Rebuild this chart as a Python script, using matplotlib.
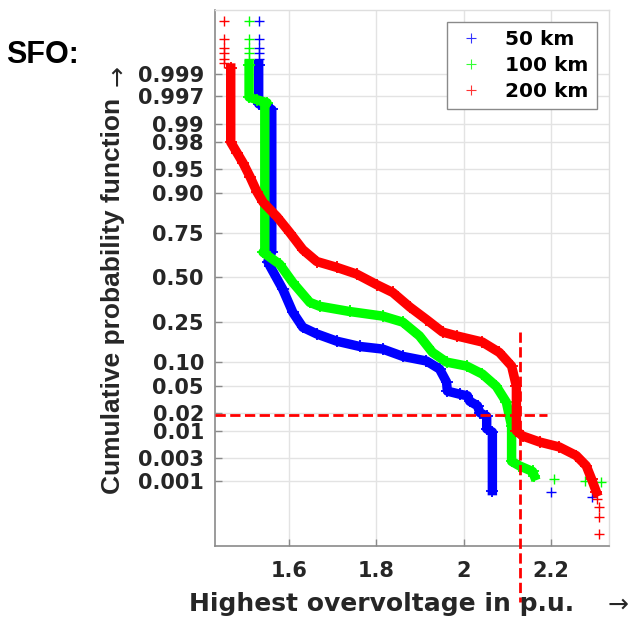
#!/usr/bin/env python3
"""
Normal probability plot of the highest overvoltage (SFO) for three line lengths.
"""

from statistics import NormalDist

import matplotlib
matplotlib.use("Agg")
import matplotlib.pyplot as plt
from matplotlib.lines import Line2D
import numpy as np

# ---- data (x in p.u., p = cumulative probability) ----
LABELS = ["50 km", "100 km", "200 km"]
COLORS = ["#0000FF", "#00FF00", "#FF0000"]

blue_x = [1.531, 1.531, 1.545, 1.561, 1.561, 1.552, 1.557, 1.586, 1.609, 1.632,
          1.664, 1.710, 1.762, 1.815, 1.861, 1.915, 1.945, 1.961, 1.963, 1.991,
          2.009, 2.014, 2.032, 2.037, 2.053, 2.053, 2.066, 2.066]
blue_p = [.99938, .9958, .9952, .9946, .652, .595, .567, .429, .298, .224,
          .195, .166, .147, .138, .115, .102, .082, .056, .042, .038,
          .036, .030, .0256, .020, .0174, .0107, .0094, .0006]
blue_sparse_x = [1.531, 1.531, 1.531, 1.531, 1.531, 2.201, 2.295]
blue_sparse_p = [.99995, .99985, .99975, .99968, .99955, .00056, .00043]

green_x = [1.509, 1.509, 1.527, 1.550, 1.545, 1.545, 1.541, 1.579, 1.609, 1.648,
           1.671, 1.739, 1.815, 1.861, 1.899, 1.929, 1.961, 2.007, 2.043, 2.075,
           2.098, 2.105, 2.110, 2.110, 2.128, 2.158, 2.162]
green_p = [.99938, .9969, .9965, .9960, .9955, .652, .648, .579, .469, .352,
           .330, .302, .278, .248, .187, .127, .099, .089, .071, .049,
           .029, .0174, .012, .0026, .0021, .0016, .00128]
green_sparse_x = [1.509, 1.509, 1.509, 1.509, 1.509, 2.208, 2.277, 2.315]
green_sparse_p = [.99995, .99985, .99975, .99968, .99955, .0011, .0010, .00094]

red_x = [1.467, 1.467, 1.481, 1.495, 1.511, 1.527, 1.541, 1.573, 1.602, 1.632,
         1.664, 1.710, 1.755, 1.801, 1.838, 1.877, 1.915, 1.952, 1.984, 2.043,
         2.082, 2.110, 2.121, 2.121, 2.135, 2.174, 2.219, 2.258, 2.281, 2.293,
         2.304]
red_p = [.99926, .980, .971, .959, .937, .903, .873, .821, .752, .663,
         .595, .560, .520, .456, .409, .326, .261, .203, .187, .163,
         .127, .089, .049, .0099, .008, .0062, .0050, .0034, .0021, .0011,
         .00056]
red_sparse_x = [1.451, 1.451, 1.451, 1.451, 1.451, 1.451, 2.306, 2.311, 2.311, 2.311]
red_sparse_p = [.99995, .99985, .99975, .99968, .99955, .99944, .00039, .00025, .00014, .00005]

# 2 % level and the 2.13 p.u. marker
limit_p = 0.018
limit_x = 2.13

Y_TICKS = [0.999, 0.997, 0.99, 0.98, 0.95, 0.90, 0.75, 0.50, 0.25, 0.10,
           0.05, 0.02, 0.01, 0.003, 0.001]
Y_TICK_LABELS = ["0.999", "0.997", "0.99", "0.98", "0.95", "0.90", "0.75", "0.50",
                 "0.25", "0.10", "0.05", "0.02", "0.01", "0.003", "0.001"]
X_TICKS = [1.6, 1.8, 2.0, 2.2]
X_TICK_LABELS = ["1.6", "1.8", "2", "2.2"]

TEXT = "#262626"
_nd = NormalDist()


def prob_forward(p):
    p = np.clip(np.asarray(p, dtype=float), 1e-12, 1 - 1e-12)
    return np.vectorize(_nd.inv_cdf, otypes=[float])(p)


def prob_inverse(z):
    z = np.asarray(z, dtype=float)
    return np.vectorize(_nd.cdf, otypes=[float])(z)


plt.rcParams["font.family"] = ["DejaVu Sans"]

fig = plt.figure(figsize=(6.3, 6.19), dpi=100)
ax = fig.add_axes([215 / 630, 73 / 619, 394 / 630, 536 / 619])
ax.set_yscale("function", functions=(prob_forward, prob_inverse))

series = [
    (blue_x, blue_p, blue_sparse_x, blue_sparse_p),
    (green_x, green_p, green_sparse_x, green_sparse_p),
    (red_x, red_p, red_sparse_x, red_sparse_p),
]
for (bx, bp, sx, sp), color in zip(series, COLORS):
    ax.plot(bx, bp, color=color, lw=6.8, marker="+", markersize=9,
            markeredgewidth=1.3, zorder=3)
    ax.plot(sx, sp, color=color, ls="none", marker="+", markersize=7,
            markeredgewidth=1.0, zorder=3)

ax.plot([1.431, 2.19], [limit_p, limit_p], color="#FF0000", lw=2, ls="--", zorder=4)
ax.plot([limit_x, limit_x], [0.203, 4e-7], color="#FF0000", lw=2, ls="--",
        zorder=4, clip_on=False)

ax.set_xlim(1.431, 2.333)
ax.set_ylim(_nd.cdf(-4.08), _nd.cdf(4.06))

ax.set_yticks(Y_TICKS)
ax.set_yticklabels(Y_TICK_LABELS)
ax.set_xticks(X_TICKS)
ax.set_xticklabels(X_TICK_LABELS)
ax.minorticks_off()

ax.tick_params(axis="both", direction="in", length=5, width=1, color="#8a8a8a",
               labelsize=15, labelcolor=TEXT)
ax.tick_params(axis="y", pad=8)
ax.tick_params(axis="x", pad=11)
for lab in ax.get_xticklabels() + ax.get_yticklabels():
    lab.set_fontweight("bold")

ax.grid(True, color="#e3e3e3", lw=1, zorder=0)
ax.set_axisbelow(True)
for side in ("left", "bottom"):
    ax.spines[side].set_color("#8a8a8a")
    ax.spines[side].set_linewidth(1.2)
for side in ("top", "right"):
    ax.spines[side].set_color("#dedede")
    ax.spines[side].set_linewidth(1)

handles = [Line2D([], [], color=c, ls="none", marker="+", markersize=7,
                  markeredgewidth=0.8, alpha=0.8) for c in COLORS]
leg = ax.legend(handles, LABELS, loc="upper right", fancybox=False,
                edgecolor="#8a8a8a", framealpha=1, handlelength=1.6,
                handletextpad=0.9, borderaxespad=0.6, labelspacing=0.35,
                prop={"size": 14.5, "weight": "bold"})
leg.get_frame().set_linewidth(1)

fig.text(6 / 630, 1 - 55 / 619, "SFO:", fontsize=22, fontweight="bold",
         family=["Liberation Sans", "DejaVu Sans"], color="black",
         ha="left", va="center")

fig.text(113 / 630, 1 - 494 / 619, "Cumulative probability function",
         rotation=90, fontsize=19, fontweight="bold",
         family=["Liberation Sans", "DejaVu Sans"], color=TEXT,
         ha="center", va="bottom")
fig.text(117 / 630, 1 - 76 / 619, "\u2192", rotation=90, fontsize=18,
         color=TEXT, ha="center", va="center")

fig.text(382 / 630, 1 - 604 / 619, "Highest overvoltage in p.u.", fontsize=18,
         fontweight="bold", color=TEXT, ha="center", va="center")
fig.text(618 / 630, 1 - 605 / 619, "\u2192", fontsize=18, color=TEXT,
         ha="center", va="center")

fig.savefig("out.png", dpi=100)
